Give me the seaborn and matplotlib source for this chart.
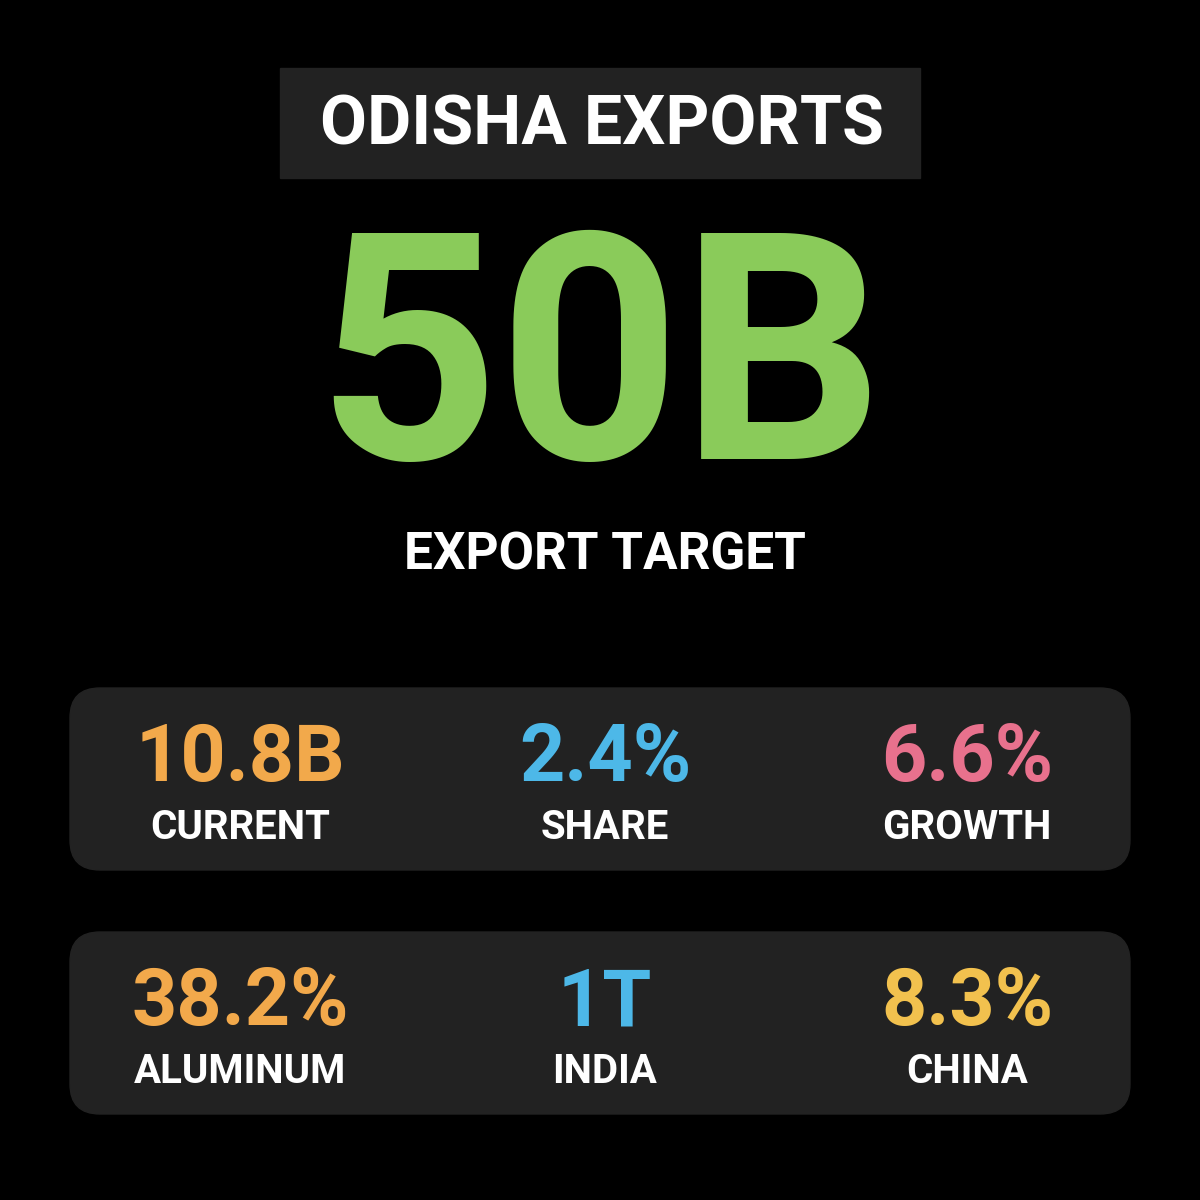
import matplotlib
matplotlib.use("Agg")
import matplotlib.pyplot as plt
import seaborn as sns
from matplotlib.patches import FancyBboxPatch, Rectangle

sns.set_theme(style="dark")
plt.rcParams['font.family'] = ['Roboto', 'DejaVu Sans']

title = "ODISHA EXPORTS"
headline_value = "50B"
headline_label = "EXPORT TARGET"
row1_values = ["10.8B", "2.4%", "6.6%"]
row1_labels = ["CURRENT", "SHARE", "GROWTH"]
row1_colors = ["#F2A94B", "#4DB8E8", "#E8718D"]
row2_values = ["38.2%", "1T", "8.3%"]
row2_labels = ["ALUMINUM", "INDIA", "CHINA"]
row2_colors = ["#F2A94B", "#4DB8E8", "#F2C14E"]

fig = plt.figure(figsize=(12, 12), dpi=100, facecolor="black")
ax = fig.add_axes([0, 0, 1, 1])
ax.set_facecolor("black")
ax.set_xlim(0, 1200)
ax.set_ylim(1200, 0)
ax.axis("off")

ax.add_patch(Rectangle((280, 68), 640, 110, color="#222222"))
ax.text(602, 126, title, color="white", fontsize=49, fontweight="bold", ha="center", va="center")
ax.text(600, 372, headline_value, color="#8ACB5A", fontsize=229, fontweight="bold", ha="center", va="center")
ax.text(605, 556, headline_label, color="white", fontsize=37, fontweight="bold", ha="center", va="center")

xs = [240, 605, 967]
for (y0, vals, labs, cols) in [(688, row1_values, row1_labels, row1_colors),
                               (932, row2_values, row2_labels, row2_colors)]:
    ax.add_patch(FancyBboxPatch((70 + 30, y0 + 30), 1060 - 60, 182 - 60,
                                boxstyle="round,pad=30", color="#222222"))
    for x, v, l, c in zip(xs, vals, labs, cols):
        ax.text(x, y0 + 72, v, color=c, fontsize=57, fontweight="bold", ha="center", va="center")
        ax.text(x, y0 + 140, l, color="white", fontsize=29, fontweight="bold", ha="center", va="center")

fig.savefig("out.png", dpi=100, facecolor="black")
